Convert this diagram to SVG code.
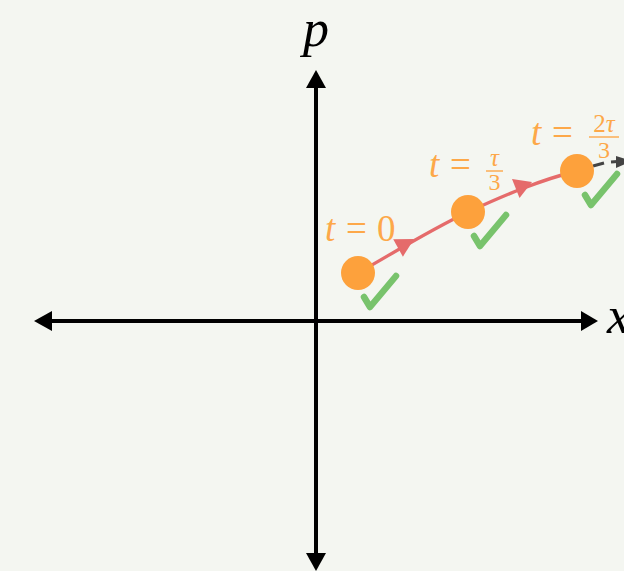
<svg xmlns="http://www.w3.org/2000/svg" width="624" height="571" viewBox="0 0 624 571">
<style>
.axis{stroke:#000;stroke-width:4;fill:none}
.head{fill:#000}
.traj{stroke:#e56b6b;stroke-width:3.4;fill:none}
.thead{fill:#e56b6b}
.pt{fill:#fda13c}
.chk{stroke:#78c36c;stroke-width:6.5;fill:none;stroke-linecap:round;stroke-linejoin:round}
.lbl{font-family:"Liberation Serif","DejaVu Serif",serif;fill:#fda849}
.it{font-style:italic}
.ax{font-family:"Liberation Serif","DejaVu Serif",serif;font-style:italic;font-size:52px;fill:#000}
.dash{stroke:#444;stroke-width:3;fill:none}
.bar{stroke:#fda849;stroke-width:1.4}
</style>
<rect width="624" height="571" fill="#f4f6f1"/>
<g id="axes">
<line class="axis" x1="48" y1="321" x2="586" y2="321"/>
<polygon class="head" points="34,321 52,311 52,331"/>
<polygon class="head" points="598,321 581,311 581,331"/>
<line class="axis" x1="316" y1="84" x2="316" y2="558"/>
<polygon class="head" points="316,70 306,88 326,88"/>
<polygon class="head" points="316,571 306,553 326,553"/>
<text class="ax" x="316" y="46" text-anchor="middle">p</text>
<text class="ax" x="607" y="333">x</text>
</g>
<g id="connectors">
<path class="traj" d="M358,273 C395,252 430,230 468,212 C505,195 540,180 577,171"/>
<polygon class="thead" points="414,239 402.9,256.7 393.2,239.3"/>
<polygon class="thead" points="532,182 519.5,198 512,179"/>
<line class="dash" x1="593" y1="166" x2="604" y2="163"/>
<line class="dash" x1="611" y1="162" x2="624" y2="161"/>
<polygon fill="#444" points="616,156 616,168 632,161"/>
</g>
<g id="state0">
<circle class="pt" cx="358" cy="273" r="17"/>
<path class="chk" d="M364,297 L370,307 L396,276"/>
<text class="lbl" y="241" font-size="37"><tspan class="it" x="325">t</tspan><tspan x="346">=</tspan><tspan x="377">0</tspan></text>
</g>
<g id="state1">
<circle class="pt" cx="468" cy="212" r="17"/>
<path class="chk" d="M474,236 L480,246 L506,215"/>
<text class="lbl" y="177" font-size="37"><tspan class="it" x="429">t</tspan><tspan x="450">=</tspan></text>
<text class="lbl it" x="494.5" y="166" font-size="25" text-anchor="middle">τ</text>
<line class="bar" x1="486" y1="171" x2="503" y2="171"/>
<text class="lbl" x="494.5" y="190" font-size="24" text-anchor="middle">3</text>
</g>
<g id="state2">
<circle class="pt" cx="577" cy="171" r="17"/>
<path class="chk" d="M585,195 L591,205 L617,174"/>
<text class="lbl" y="145" font-size="37"><tspan class="it" x="531">t</tspan><tspan x="552">=</tspan></text>
<text class="lbl" x="604" y="132" font-size="25" text-anchor="middle">2<tspan class="it">τ</tspan></text>
<line class="bar" x1="589" y1="137" x2="619" y2="137"/>
<text class="lbl" x="604" y="158" font-size="24" text-anchor="middle">3</text>
</g>
</svg>
